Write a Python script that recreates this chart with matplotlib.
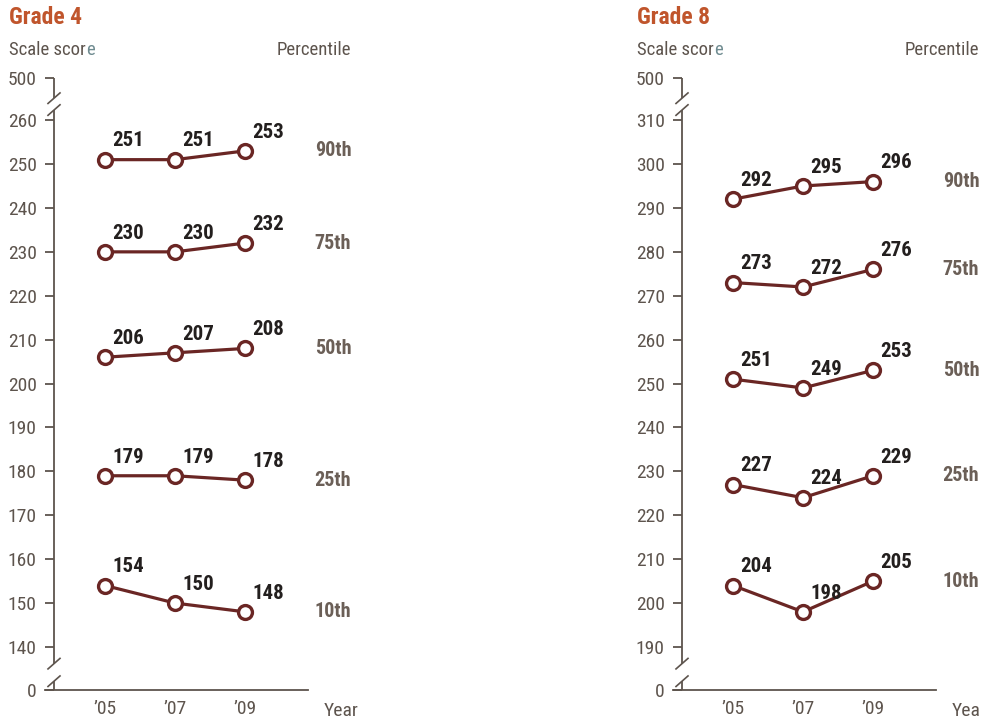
import matplotlib
matplotlib.use("Agg")
import matplotlib.pyplot as plt
from matplotlib import font_manager
from matplotlib.transforms import blended_transform_factory

# ---- data -------------------------------------------------------------
years = [2005, 2007, 2009]
year_labels = ["\u201905", "\u201907", "\u201909"]
percentiles = ["90th", "75th", "50th", "25th", "10th"]

grade4_scores = [
    [251, 251, 253],
    [230, 230, 232],
    [206, 207, 208],
    [179, 179, 178],
    [154, 150, 148],
]
grade8_scores = [
    [292, 295, 296],
    [273, 272, 276],
    [251, 249, 253],
    [227, 224, 229],
    [204, 198, 205],
]

grade4_ticks = [140, 150, 160, 170, 180, 190, 200, 210, 220, 230, 240, 250, 260]
grade8_ticks = [190, 200, 210, 220, 230, 240, 250, 260, 270, 280, 290, 300, 310]

# ---- style ------------------------------------------------------------
names = {f.name for f in font_manager.fontManager.ttflist}
FONT = "DejaVu Sans"
STRETCH = "condensed"
for cand in ["Roboto Condensed", "Liberation Sans Narrow", "Open Sans Condensed"]:
    if cand in names:
        FONT = cand
        STRETCH = "normal"
        break

TITLE_C = "#c0552c"
TEXT_C = "#5d544d"
PCT_C = "#6b5f57"
VAL_C = "#231f1e"
LINE_C = "#6a2624"
E_C = "#6f8b90"

W, H = 981, 721
fig = plt.figure(figsize=(W / 100, H / 100), dpi=100)


def fx(px):
    return px / W


def fy(py):
    return 1 - py / H


def font(size, weight="normal"):
    return dict(family=FONT, fontstretch=STRETCH, fontsize=size, fontweight=weight)


def panel(left_px, title, scores, ticks):
    right_px = left_px + 263
    top_px, bottom_px = 78, 690
    ax = fig.add_axes([fx(left_px), fy(bottom_px), fx(right_px - left_px),
                       (bottom_px - top_px) / H])
    lo, hi = ticks[0], ticks[-1]
    y_zero = lo - 9.8      # position of the "0" tick below the break
    y_top = hi + 9.6       # position of the "500" tick above the break
    ax.set_ylim(y_zero, y_top)
    # 35 px per year, first year 60 px right of the axes' left edge
    ax.set_xlim(years[0] - 60 / 35, years[0] + 203 / 35)

    for s in ["top", "right", "left"]:
        ax.spines[s].set_visible(False)
    ax.spines["bottom"].set_color(TEXT_C)
    ax.spines["bottom"].set_linewidth(1.3)
    ax.spines["bottom"].set_position(("data", y_zero))

    # left axis with two breaks
    spine_x = 9 / 263
    tr = blended_transform_factory(ax.transAxes, ax.transData)
    gap_top = (hi + 2.3, hi + 5.0)
    gap_bot = (y_zero + 2.0, y_zero + 6.0)
    segs = [(y_zero, gap_bot[0]), (gap_bot[1], gap_top[0]), (gap_top[1], y_top)]
    for a, b in segs:
        ax.plot([spine_x, spine_x], [a, b], color=TEXT_C, lw=1.3,
                transform=tr, clip_on=False, solid_capstyle="butt")
    dx = 6 / 263
    for (a, b) in [gap_top, gap_bot]:
        for yv in (a, b):
            ax.plot([spine_x - dx, spine_x + dx],
                    [yv - 1.2, yv + 1.2], color=TEXT_C, lw=1.2,
                    transform=tr, clip_on=False)

    tick_pos = [y_zero] + list(ticks) + [y_top]
    tick_lab = ["0"] + [str(t) for t in ticks] + ["500"]
    ax.set_yticks(tick_pos)
    ax.set_yticklabels(tick_lab, **font(14), color=TEXT_C)
    ax.tick_params(axis="y", length=0, pad=6)
    for t in tick_pos:
        ax.plot([0, spine_x], [t, t], color=TEXT_C, lw=1.3, transform=tr,
                clip_on=False, solid_capstyle="butt")

    ax.set_xticks(years)
    ax.set_xticklabels(year_labels, **font(14), color=TEXT_C)
    ax.tick_params(axis="x", length=0, pad=7)

    for name, vals in zip(percentiles, scores):
        ax.plot(years, vals, color=LINE_C, lw=2.3, marker="o", ms=10,
                mfc="white", mec=LINE_C, mew=2.4, clip_on=False, zorder=3)
        for xv, yv in zip(years, vals):
            ax.annotate(str(yv), (xv, yv), xytext=(16.5, 13.5),
                        textcoords="offset points", ha="center", va="center",
                        color=VAL_C, **font(15, "bold"))
        ax.text(1.095, vals[-1], name, transform=tr, ha="center", va="center",
                color=PCT_C, **font(14.5, "bold"))

    fig.text(fx(left_px - 36), fy(18), title, ha="left", va="center",
             color=TITLE_C, **font(17, "bold"))

    # "Scale score" with its last letter in a lighter tint
    x0 = left_px - 36
    probe = fig.text(fx(x0), fy(50), "Scale score", ha="left", va="center",
                     **font(13.5))
    fig.canvas.draw()
    full_right = probe.get_window_extent().x1
    probe.remove()
    fig.text(fx(x0), fy(50), "Scale scor", ha="left", va="center",
             color=TEXT_C, **font(13.5))
    fig.text(fx(full_right), fy(50), "e", ha="right", va="center",
             color=E_C, **font(13.5))

    fig.text(fx(right_px + 43), fy(50), "Percentile", ha="right",
             va="center", color=TEXT_C, **font(13.5))
    fig.text(fx(right_px + 16), fy(711), "Year", ha="left", va="center",
             color=TEXT_C, **font(14))
    return ax


panel(45, "Grade 4", grade4_scores, grade4_ticks)
panel(673, "Grade 8", grade8_scores, grade8_ticks)

fig.savefig("out.png", dpi=100)
